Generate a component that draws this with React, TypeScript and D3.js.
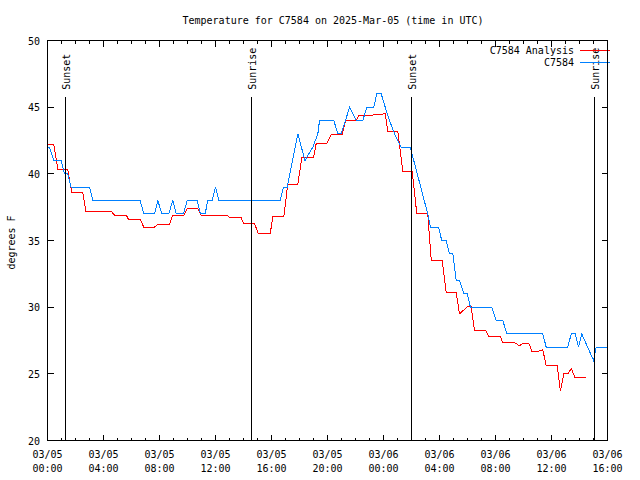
import React from 'react';
import * as d3 from 'd3';

const BASE = Date.UTC(2025, 2, 5, 0, 0);
const TITLE = 'Temperature for C7584 on 2025-Mar-05 (time in UTC)';
const Y_LABEL = 'degrees F';
const SERIES_NAMES = ['C7584 Analysis', 'C7584'];

// hours since 2025-03-05 00:00 UTC
const analysisHours = [0, 0.45, 0.57, 0.75, 1.45, 1.61, 1.75, 2.52, 2.74, 4.55, 4.79, 5.62, 5.81, 6.64, 6.88, 7.64, 7.88, 8.71, 8.95, 9.74, 9.98, 10.74, 10.98, 11.76, 12.88, 13.0, 13.84, 14.02, 14.79, 15.07, 15.91, 16.09, 16.88, 17.16, 17.88, 18.16, 19.0, 19.19, 19.95, 20.26, 21.05, 21.29, 22.05, 22.24, 23.16, 24.12, 24.31, 25.02, 25.38, 26.05, 26.38, 27.16, 27.41, 28.19, 28.48, 29.19, 29.43, 30.02, 30.26, 30.5, 31.29, 31.52, 32.34, 32.52, 33.36, 33.71, 33.95, 34.38, 34.59, 35.09, 35.38, 35.62, 36.41, 36.64, 36.88, 37.16, 37.41, 37.69, 38.48];
const analysisTemps = [42.2, 42.2, 41.4, 40.3, 40.3, 39.3, 38.6, 38.6, 37.2, 37.2, 36.9, 36.9, 36.55, 36.55, 36.0, 36.0, 36.2, 36.2, 36.9, 36.9, 37.4, 37.4, 36.9, 36.9, 36.85, 36.7, 36.7, 36.25, 36.25, 35.5, 35.5, 36.8, 36.8, 39.2, 39.2, 41.2, 41.2, 42.25, 42.25, 42.95, 42.95, 44.0, 44.0, 44.4, 44.4, 44.5, 43.2, 43.2, 40.15, 40.15, 37.0, 37.0, 33.5, 33.5, 31.1, 31.1, 29.5, 30.05, 30.05, 28.25, 28.25, 27.8, 27.8, 27.35, 27.35, 27.1, 27.3, 27.3, 26.7, 26.7, 26.8, 25.6, 25.6, 23.7, 25.0, 25.0, 25.4, 24.7, 24.7];

const obsHours = [0, 0.14, 0.45, 0.98, 1.21, 1.45, 1.69, 3.0, 3.24, 6.62, 6.88, 7.64, 7.88, 8.16, 8.66, 8.95, 9.19, 9.71, 9.98, 10.69, 10.93, 11.26, 11.45, 11.76, 12.0, 12.24, 16.62, 16.86, 17.12, 17.88, 18.39, 18.95, 19.31, 19.43, 20.45, 20.74, 20.98, 21.29, 21.57, 22.05, 22.52, 22.81, 23.31, 23.52, 23.84, 24.12, 24.43, 24.79, 25.26, 25.91, 27.16, 27.36, 27.93, 28.16, 28.48, 28.71, 28.95, 29.19, 29.43, 29.74, 29.98, 30.21, 31.74, 32.05, 32.52, 32.81, 35.38, 35.62, 37.16, 37.41, 37.69, 37.93, 38.16, 39.0, 39.19, 39.98];
const obsTemps = [42, 42, 41, 41, 40, 40, 39, 39, 38, 38, 37, 37, 38, 37, 37, 38, 37, 37, 38, 38, 37, 37, 38, 38, 39, 38, 38, 39, 39, 43, 41, 42, 43, 44, 44, 43, 43, 44, 45, 44, 44, 45, 45, 46, 46, 45, 44, 43, 42, 42, 37, 36, 36, 35, 35, 34, 34, 32, 32, 31, 31, 30, 30, 29, 29, 28, 28, 27, 27, 28, 28, 27, 28, 26, 27, 27];

const sunLabels = ['Sunset', 'Sunrise', 'Sunset', 'Sunrise'];
const sunHours = [1.24, 14.52, 25.96, 39.07];

const yTicks = [20, 25, 30, 35, 40, 45, 50];
const xMajorHours = [0, 4, 8, 12, 16, 20, 24, 28, 32, 36, 40];
const xMinorHours = d3.range(0, 41, 1).filter((h) => h % 4 !== 0);

const FONT = '"DejaVu Sans Mono", "Liberation Mono", monospace';
const toDate = (h: number) => new Date(BASE + h * 3600e3);

export default function App() {
  const L = 47.5, R = 607.5, T = 40.5, B = 440.5;
  const x = d3.scaleUtc().domain([toDate(0), toDate(40)]).range([L, R]);
  const y = d3.scaleLinear().domain([20, 50]).range([B, T]);
  const fmtDay = d3.utcFormat('%m/%d');
  const fmtTime = d3.utcFormat('%H:%M');

  const line = d3
    .line<[number, number]>()
    .x((d) => x(toDate(d[0])))
    .y((d) => y(d[1]));

  const analysis = analysisHours.map((h, i) => [h, analysisTemps[i]] as [number, number]);
  const obs = obsHours.map((h, i) => [h, obsTemps[i]] as [number, number]);

  const major = 6, minor = 3;

  return (
    <svg
      width={640}
      height={480}
      style={{ position: 'absolute', left: 0, top: 0, background: '#fff' }}
      fontFamily={FONT}
      fontSize={10}
    >
      <rect x={0} y={0} width={640} height={480} fill="#fff" />
      <text x={333} y={24} textAnchor="middle" fill="#000">{TITLE}</text>

      {/* y ticks */}
      {yTicks.map((t) => {
        const py = Math.floor(y(t)) + 0.5;
        return (
          <g key={'y' + t}>
            <line x1={L} x2={L + major} y1={py} y2={py} stroke="#000" shapeRendering="crispEdges" />
            <line x1={R} x2={R - major} y1={py} y2={py} stroke="#000" shapeRendering="crispEdges" />
            <text x={40} y={y(t) + 4} textAnchor="end" fill="#000">{t}</text>
          </g>
        );
      })}

      {/* x ticks */}
      {xMajorHours.map((h) => {
        const px = x(toDate(h));
        return (
          <g key={'x' + h}>
            <line x1={px} x2={px} y1={B} y2={B - major} stroke="#000" shapeRendering="crispEdges" />
            <line x1={px} x2={px} y1={T} y2={T + major} stroke="#000" shapeRendering="crispEdges" />
            <text x={px} y={458} textAnchor="middle" fill="#000">{fmtDay(toDate(h))}</text>
            <text x={px} y={472} textAnchor="middle" fill="#000">{fmtTime(toDate(h))}</text>
          </g>
        );
      })}
      {xMinorHours.map((h) => {
        const px = x(toDate(h));
        return (
          <g key={'m' + h}>
            <line x1={px} x2={px} y1={B} y2={B - minor} stroke="#000" shapeRendering="crispEdges" />
            <line x1={px} x2={px} y1={T} y2={T + minor} stroke="#000" shapeRendering="crispEdges" />
          </g>
        );
      })}

      <text transform={`translate(15,${(T + B) / 2 + 2}) rotate(-90)`} textAnchor="middle" fill="#000">{Y_LABEL}</text>

      {/* data */}
      <path d={line(analysis) || ''} fill="none" stroke="#ff0000" strokeWidth={1} shapeRendering="crispEdges" />
      <path d={line(obs) || ''} fill="none" stroke="#0080ff" strokeWidth={1} shapeRendering="crispEdges" />

      {/* sun events */}
      {sunHours.map((h, i) => {
        const px = Math.round(x(toDate(h))) + 0.5;
        return (
          <g key={'s' + i}>
            <line x1={px} x2={px} y1={y(45.8)} y2={B} stroke="#000" shapeRendering="crispEdges" />
            <text transform={`translate(${px + 4},${y(46.3)}) rotate(-90)`} textAnchor="start" fill="#000">{sunLabels[i]}</text>
          </g>
        );
      })}

      {/* legend */}
      <text x={574} y={54} textAnchor="end" fill="#000">{SERIES_NAMES[0]}</text>
      <line x1={580} x2={610} y1={50.5} y2={50.5} stroke="#ff0000" shapeRendering="crispEdges" />
      <text x={574} y={66} textAnchor="end" fill="#000">{SERIES_NAMES[1]}</text>
      <line x1={580} x2={610} y1={62.5} y2={62.5} stroke="#0080ff" shapeRendering="crispEdges" />

      {/* frame */}
      <rect x={L} y={T} width={R - L} height={B - T} fill="none" stroke="#000" shapeRendering="crispEdges" />
    </svg>
  );
}
